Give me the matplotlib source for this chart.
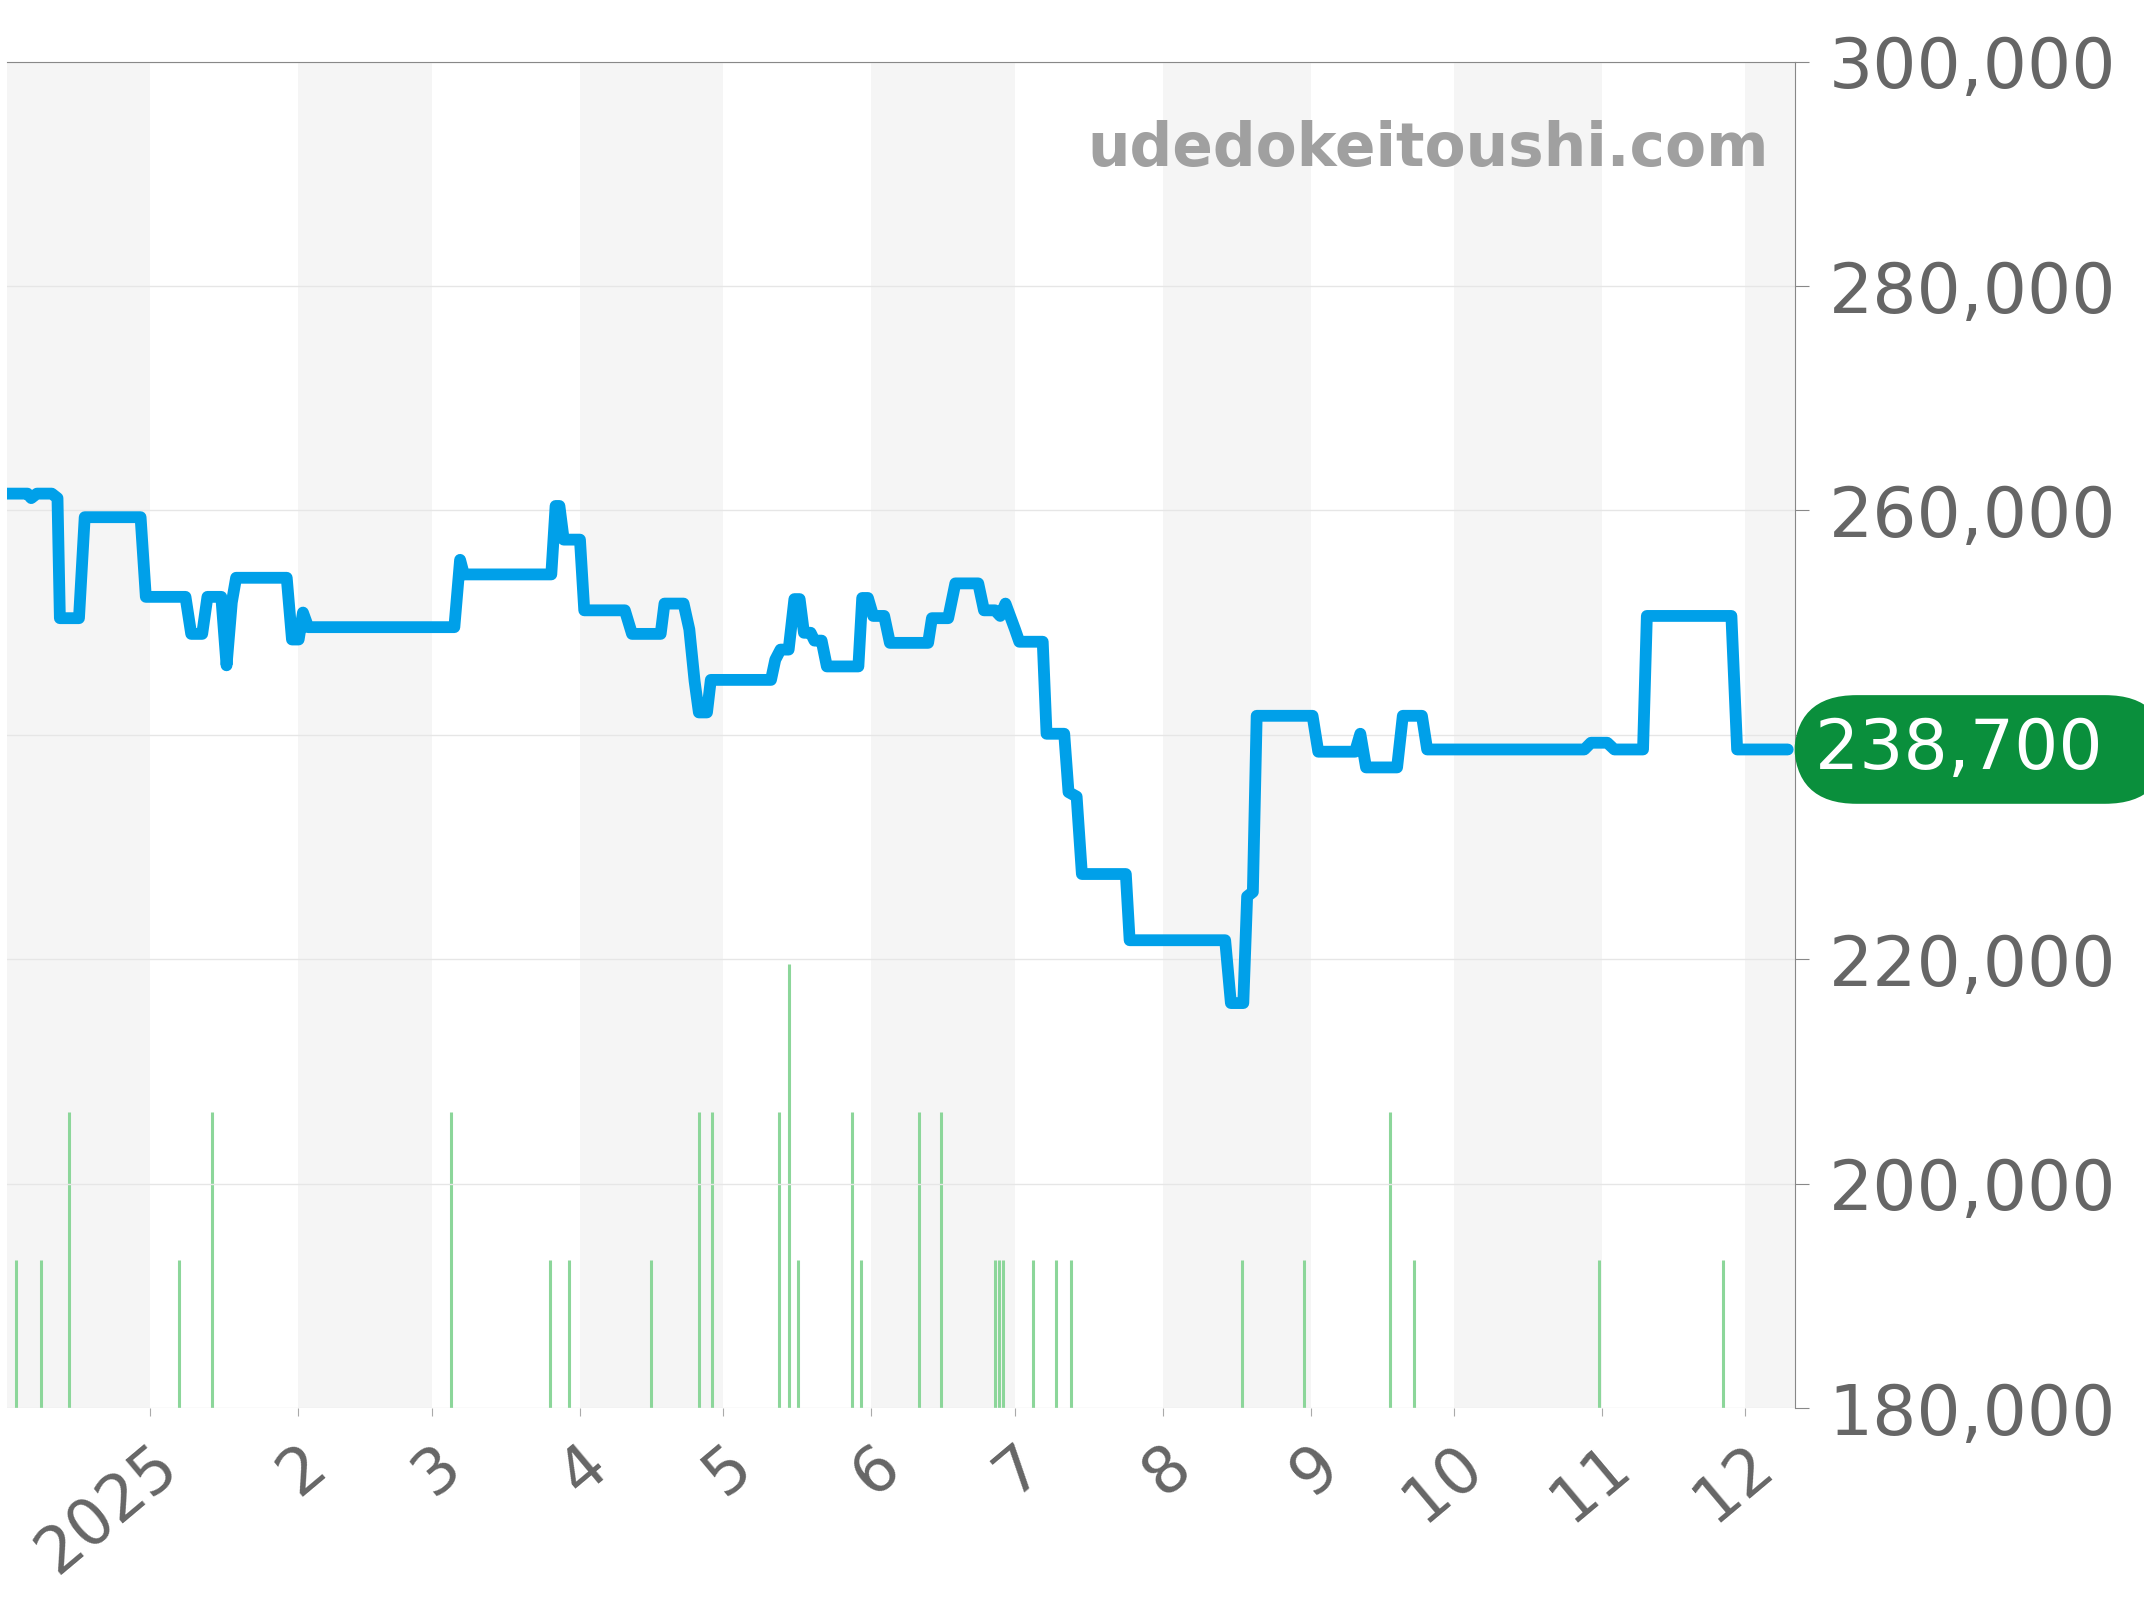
import matplotlib
matplotlib.use("Agg")
import matplotlib.pyplot as plt

days = [-30,-25.7,-24.9,-23.7,-20.6,-19.4,-18.9,-14.9,-13.7,-2,-0.9,7.4,8.6,10.9,12,14.9,16,17.1,18,28.6,29.7,31.1,32,33.1,63.7,64.9,65.7,84,84.9,85.7,86.6,90,90.9,99.4,100.9,106.9,107.7,111.7,112.9,114,114.9,116.6,117.4,130,130.9,132,133.7,134.9,136,136.9,138.3,139.1,140.6,141.7,148.3,149.1,150.3,151.4,153.7,154.9,162.9,163.7,167.1,168.6,173.4,174.6,176.9,178,179.1,181.1,182,186.9,187.7,191.4,192.3,194,195.1,204.3,205.1,225.1,226.3,228.9,229.7,230.9,231.7,243.4,244.6,252.3,253.4,254.6,261.1,262.3,266.3,267.4,300.3,301.7,305.1,306.6,312.6,313.4,331.1,332.3,342.9]
prices = [261500,261500,261100,261500,261500,261100,250400,250400,259400,259400,252300,252300,249000,249000,252300,252300,246200,251800,254000,254000,248500,248500,250900,249600,249600,255600,254300,254300,260400,260400,257400,257400,251100,251100,249000,249000,251700,251700,249400,244800,242000,242000,244900,244900,246700,247600,247600,252100,252100,249100,249100,248400,248400,246100,246100,252200,252200,250600,250600,248200,248200,250400,250400,253500,253500,251100,251100,250600,251700,249400,248300,248300,240100,240100,234900,234500,227600,227600,221700,221700,216100,216100,225600,226000,241700,241700,238500,238500,240100,237100,237100,241700,241700,238700,238700,239300,239300,238700,238700,250600,250600,238700,238700]
vol_days = [-28,-22.9,-16.9,6,12.9,62.9,83.7,87.7,104.9,114.9,117.7,131.7,133.7,135.7,146.9,148.9,160.9,165.7,176.9,177.7,178.6,184.9,189.7,192.9,228.6,241.7,259.7,264.6,303.4,329.4]
vol_counts = [1,1,2,1,2,2,1,1,1,2,2,2,3,1,2,1,2,2,1,1,1,1,1,1,1,1,2,1,1,1]
month_starts = [0,31,59,90,120,151,181,212,243,273,304,334]
month_labels = ["2025","2","3","4","5","6","7","8","9","10","11","12"]
shade = [(-31,0),(31,59),(90,120),(151,181),(212,243),(273,304),(334,345)]
yticks = [180000,200000,220000,240000,260000,280000,300000]
current = 238700

fig = plt.figure(figsize=(21.44,16), dpi=100)
ax = fig.add_axes([0.0032,0.1199,0.8342,0.8416])
ax.set_xlim(-30,344.5); ax.set_ylim(180000,300000)
ax2 = ax.twinx()
ax2.set_ylim(0,9.1)
for a,b in shade:
    ax2.axvspan(a,b,color="#f5f5f5",lw=0,zorder=0)
ax2.vlines(vol_days,0,vol_counts,color="#8cd69a",lw=2.2,zorder=2)
ax2.axis("off")
ax.set_zorder(ax2.get_zorder()+1); ax.patch.set_visible(False)
for y in yticks:
    ax.axhline(y,color="#e6e6e6",lw=1,zorder=1)
ax.plot(days,prices,color="#00a0e9",lw=8.5,solid_joinstyle="round",solid_capstyle="round",zorder=5)
for s in ["left","bottom"]:
    ax.spines[s].set_visible(False)
ax.spines["top"].set_color("#888"); ax.spines["right"].set_color("#888")
ax.yaxis.tick_right()
ax.set_yticks(yticks)
ax.set_yticklabels([f"{v:,}" for v in yticks],fontsize=50,color="#666")
ax.tick_params(axis="y",length=10,color="#888",pad=14)
ax.set_xticks(month_starts)
ax.set_xticklabels(month_labels,fontsize=46,color="#666",rotation=40,ha="right",rotation_mode="anchor")
ax.tick_params(axis="x",length=6,color="#aaa",pad=12)
ax.text(0.985,0.935,"udedokeitoushi.com",transform=ax.transAxes,ha="right",va="center",fontsize=43,fontweight="bold",color="#a0a0a0")
ax.annotate(f"{current:,}  ",xy=(1.0,current),xycoords=("axes fraction","data"),xytext=(14,0),textcoords="offset points",
            ha="left",va="center",fontsize=50,color="white",annotation_clip=False,
            bbox=dict(boxstyle="round,pad=0.3,rounding_size=0.9",fc="#0a8f3c",ec="none"))
fig.savefig("out.png",dpi=100)
